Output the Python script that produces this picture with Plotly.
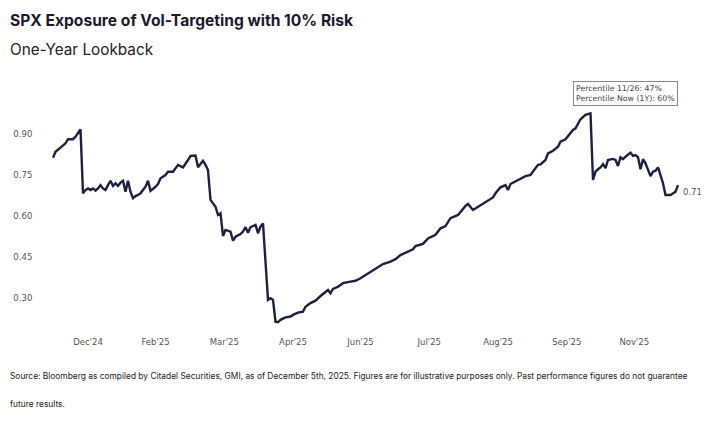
import plotly.graph_objects as go

# Trading-day index (sparse samples of the daily series) and exposure values
day_idx = [0, 1, 3, 5, 6, 8, 9, 11, 12, 13, 14, 15, 16, 17, 18, 19, 20, 21, 22, 23,
           24, 25, 26, 27, 28, 29, 30, 31, 32, 33, 34, 35, 36, 37, 38, 39, 41, 42, 43, 45,
           46, 48, 50, 52, 54, 55, 57, 58, 59, 60, 61, 62, 63, 65, 66, 67, 68, 69, 71, 72,
           73, 75, 76, 77, 78, 79, 81, 82, 83, 84, 86, 87, 88, 89, 90, 91, 93, 95, 96, 98,
           100, 101, 103, 105, 107, 109, 110, 111, 112, 114, 116, 119, 121, 123, 125, 127, 129, 132, 135, 137,
           139, 142, 144, 145, 148, 150, 153, 155, 157, 159, 162, 165, 166, 168, 170, 172, 174, 176, 177, 179,
           181, 182, 183, 185, 187, 189, 191, 194, 195, 197, 198, 200, 202, 203, 205, 208, 209, 211, 213, 215,
           216, 217, 218, 219, 220, 221, 222, 224, 225, 226, 227, 228, 229, 231, 232, 233, 234, 235, 236, 237,
           239, 240, 241, 242, 243, 244, 245, 247, 249, 250]
exposure = [0.814, 0.836, 0.851, 0.867, 0.882, 0.882, 0.891, 0.918, 0.684, 0.696, 0.702, 0.696, 0.702, 0.694, 0.702, 0.714, 0.702, 0.696, 0.714, 0.730,
            0.711, 0.721, 0.711, 0.723, 0.730, 0.690, 0.730, 0.690, 0.666, 0.674, 0.678, 0.684, 0.696, 0.708, 0.730, 0.693, 0.708, 0.718, 0.739, 0.751,
            0.763, 0.763, 0.788, 0.779, 0.806, 0.821, 0.822, 0.779, 0.791, 0.803, 0.788, 0.769, 0.660, 0.635, 0.605, 0.611, 0.528, 0.550, 0.544, 0.511,
            0.525, 0.535, 0.544, 0.560, 0.540, 0.560, 0.568, 0.538, 0.562, 0.574, 0.294, 0.300, 0.294, 0.214, 0.212, 0.221, 0.230, 0.233, 0.239, 0.247,
            0.251, 0.269, 0.282, 0.291, 0.308, 0.324, 0.330, 0.318, 0.334, 0.342, 0.355, 0.361, 0.364, 0.373, 0.385, 0.397, 0.410, 0.425, 0.434, 0.443,
            0.458, 0.470, 0.479, 0.491, 0.499, 0.519, 0.532, 0.556, 0.564, 0.593, 0.605, 0.638, 0.645, 0.623, 0.635, 0.645, 0.657, 0.669, 0.684, 0.706,
            0.714, 0.696, 0.718, 0.727, 0.735, 0.747, 0.751, 0.788, 0.790, 0.806, 0.830, 0.840, 0.855, 0.873, 0.882, 0.916, 0.922, 0.955, 0.971, 0.977,
            0.733, 0.763, 0.772, 0.779, 0.791, 0.776, 0.806, 0.810, 0.806, 0.784, 0.816, 0.809, 0.818, 0.833, 0.821, 0.824, 0.816, 0.772, 0.809, 0.794,
            0.747, 0.763, 0.767, 0.779, 0.751, 0.721, 0.678, 0.678, 0.690, 0.714]

tick_days = [14, 41, 68.5, 96, 123, 150.5, 178, 205.5, 232.5]
tick_labels = ["Dec'24", "Feb'25", "Mar'25", "Apr'25", "Jun'25", "Jul'25", "Aug'25", "Sep'25", "Nov'25"]
y_ticks = [0.30, 0.45, 0.60, 0.75, 0.90]

title = "SPX Exposure of Vol-Targeting with 10% Risk"
subtitle = "One-Year Lookback"
percentile_text = "Percentile 11/26: 47%<br>Percentile Now (1Y): 60%"
footnote1 = ("Source: Bloomberg as compiled by Citadel Securities, GMI, as of December 5th, 2025. "
             "Figures are for illustrative purposes only. Past performance figures do not guarantee")
footnote2 = "future results."

LINE = "#1b2140"
AX_FONT = dict(family="DejaVu Sans", size=8.5, color="#555555")

# page body has an 8px margin, so the figure is sized and placed to compensate
OFF = 8
W, H = 709 - OFF, 421 - OFF
PL, PT, PW, PH = 40 - OFF, 107 - OFF, 650, 224
PR, PB = W - PL - PW, H - PT - PH


def px(xr):
    return (xr - OFF - PL) / PW


def py(yr):
    return (PT + PH - (yr - OFF)) / PH


fig = go.Figure()
fig.add_trace(go.Scatter(x=day_idx, y=exposure, mode="lines",
                         line=dict(color=LINE, width=2.4), hoverinfo="skip"))

fig.update_layout(
    width=W, height=H,
    margin=dict(l=PL, r=PR, t=PT, b=PB, pad=0),
    paper_bgcolor="white", plot_bgcolor="white",
    showlegend=False,
    xaxis=dict(range=[-5.2, 254.8], tickmode="array", tickvals=tick_days, ticktext=tick_labels,
               showgrid=False, zeroline=False, showline=False, automargin=False,
               ticks="outside", ticklen=3, tickcolor="rgba(0,0,0,0)", tickfont=AX_FONT),
    yaxis=dict(range=[0.18, 1.0], tickmode="array", tickvals=y_ticks, tickformat=".2f",
               showgrid=False, zeroline=False, showline=False, automargin=False,
               ticks="outside", ticklen=5, tickcolor="rgba(0,0,0,0)", tickfont=AX_FONT),
)

fig.add_annotation(text="<b>" + title + "</b>", xref="paper", yref="paper",
                   x=px(8), xanchor="left", y=py(20.7), yanchor="middle",
                   showarrow=False, font=dict(family="Inter", size=15.6, color="#1a1a2e"))
fig.add_annotation(text=subtitle, xref="paper", yref="paper",
                   x=px(8), xanchor="left", y=py(50), yanchor="middle",
                   showarrow=False, font=dict(family="Inter", size=15.3, color="#222222"))
fig.add_annotation(text=footnote1, xref="paper", yref="paper",
                   x=px(8), xanchor="left", y=py(376), yanchor="middle",
                   showarrow=False, font=dict(family="Inter", size=8.4, color="#222222"))
fig.add_annotation(text=footnote2, xref="paper", yref="paper",
                   x=px(8), xanchor="left", y=py(403.5), yanchor="middle",
                   showarrow=False, font=dict(family="Inter", size=8.4, color="#222222"))

fig.add_annotation(text=percentile_text, xref="x", yref="paper", x=228.8, xanchor="center",
                   y=py(93.3), yanchor="middle", align="left", showarrow=False,
                   bordercolor="#888888", borderwidth=1, borderpad=2, bgcolor="white",
                   font=dict(family="DejaVu Sans", size=7.8, color="#444444"))

fig.add_annotation(text=f"{exposure[-1]:.2f}", x=day_idx[-1], y=exposure[-1], xref="x", yref="y",
                   xanchor="left", yanchor="middle", xshift=3, yshift=-7, showarrow=False,
                   font=AX_FONT)

fig.write_html("out.html")
